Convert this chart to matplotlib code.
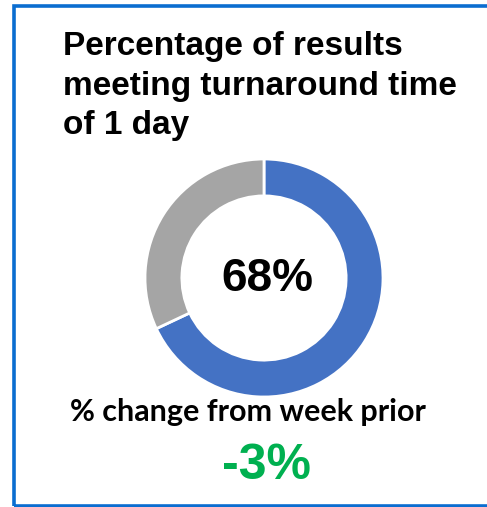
import matplotlib.pyplot as plt
from matplotlib.patches import Rectangle

plt.rcParams['font.family'] = ['Liberation Sans', 'DejaVu Sans']

# data
labels = ['Met', 'Not met']
shares = [68, 32]
colors = ['#4472C4', '#A5A5A5']
title = 'Percentage of results\nmeeting turnaround time\nof 1 day'
center_txt = '68%'
change_label = '% change from week prior'
change_txt = '-3%'

W, H = 487, 507
fig = plt.figure(figsize=(W / 100, H / 100), dpi=100)

# blue frame (right edge falls outside the picture)
fig.patches.append(Rectangle((13.5 / W, 1 - 506 / H), 500 / W, (506 - 5.5) / H,
                             transform=fig.transFigure, fill=False,
                             edgecolor='#0B6DD0', linewidth=2.6))

# donut
cx, cy, r = 264, 278, 119
ax = fig.add_axes([(cx - r) / W, 1 - (cy + r) / H, 2 * r / W, 2 * r / H])
ax.pie(shares, colors=colors, startangle=90, counterclock=False,
       wedgeprops=dict(width=0.31, edgecolor='white', linewidth=2))
ax.set_xlim(-1, 1)
ax.set_ylim(-1, 1)
ax.axis('off')

fig.text(63 / W, 1 - 31 / H, title, ha='left', va='top', fontsize=24,
         fontweight='bold', linespacing=1.36)
fig.text(267 / W, 1 - 279 / H, center_txt, ha='center', va='center',
         fontsize=33, fontweight='bold')
fig.text(248 / W, 1 - 412 / H, change_label, ha='center', va='center',
         fontsize=22, fontweight='bold', family=['Lato', 'DejaVu Sans'])
fig.text(266 / W, 1 - 466 / H, change_txt, ha='center', va='center',
         fontsize=36, fontweight='bold', color='#00B050')

fig.savefig('out.png', dpi=100)
